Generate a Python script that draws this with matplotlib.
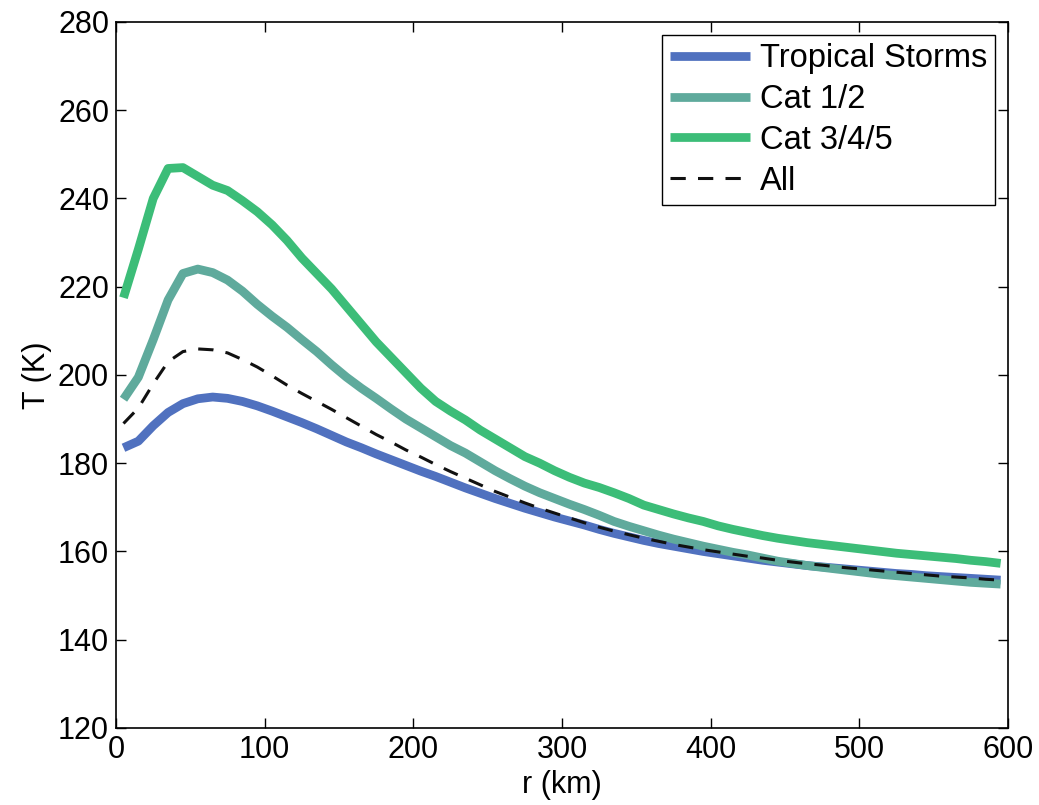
import numpy as np
import matplotlib
matplotlib.use("Agg")
import matplotlib.pyplot as plt

plt.rcParams['font.family'] = ['Liberation Sans', 'DejaVu Sans']

r_km = list(range(5, 600, 10))

ts = [183.5, 185.0, 188.5, 191.5, 193.5, 194.6, 195.0, 194.7, 194.0, 193.0,
      191.8, 190.5, 189.2, 187.8, 186.3, 184.8, 183.5, 182.1, 180.8, 179.5,
      178.2, 177.0, 175.7, 174.4, 173.2, 172.0, 170.9, 169.8, 168.8, 167.8,
      166.9, 166.0, 165.0, 164.1, 163.3, 162.5, 161.8, 161.2, 160.6, 160.0,
      159.5, 159.0, 158.5, 158.0, 157.6, 157.2, 156.8, 156.5, 156.2, 155.9,
      155.6, 155.3, 155.0, 154.8, 154.5, 154.3, 154.1, 153.9, 153.7, 153.5]

cat12 = [194.5, 199.5, 208.0, 217.0, 223.0, 224.0, 223.2, 221.5, 219.0, 216.0,
         213.3, 210.8, 208.0, 205.3, 202.3, 199.5, 197.0, 194.7, 192.3, 190.0,
         188.0, 186.0, 184.0, 182.3, 180.3, 178.3, 176.5, 174.8, 173.3, 172.0,
         170.7, 169.5, 168.2, 166.8, 165.7, 164.7, 163.7, 162.8, 162.0, 161.2,
         160.5, 159.8, 159.2, 158.5, 157.8, 157.3, 156.8, 156.4, 156.0, 155.6,
         155.2, 154.8, 154.5, 154.2, 153.9, 153.6, 153.3, 153.0, 152.8, 152.6]

cat345 = [217.5, 228.5, 240.0, 246.8, 247.0, 245.0, 243.0, 241.8, 239.5, 237.0,
          234.0, 230.5, 226.5, 223.0, 219.5, 215.5, 211.5, 207.5, 204.0, 200.5,
          197.0, 194.0, 191.8, 189.8, 187.5, 185.5, 183.5, 181.5, 180.0, 178.3,
          176.8, 175.5, 174.5, 173.3, 172.0, 170.5, 169.5, 168.5, 167.6, 166.8,
          165.8, 165.0, 164.3, 163.6, 163.0, 162.5, 162.0, 161.6, 161.2, 160.8,
          160.4, 160.0, 159.6, 159.3, 159.0, 158.7, 158.4, 158.0, 157.7, 157.3]

all_storms = [189.0, 192.5, 198.0, 203.0, 205.3, 205.9, 205.7, 205.0, 203.5, 201.8,
              199.8, 197.7, 195.8, 194.0, 192.2, 190.3, 188.4, 186.5, 184.8, 183.0,
              181.4, 179.7, 178.1, 176.6, 175.1, 173.6, 172.3, 171.0, 169.8, 168.7,
              167.6, 166.5, 165.5, 164.6, 163.8, 163.0, 162.3, 161.6, 161.0, 160.4,
              159.9, 159.4, 158.9, 158.5, 158.0, 157.6, 157.2, 156.9, 156.5, 156.2,
              155.9, 155.6, 155.3, 155.0, 154.7, 154.4, 154.2, 154.0, 153.7, 153.5]

labels = ["Tropical Storms", "Cat 1/2", "Cat 3/4/5", "All"]
xticks = [0, 100, 200, 300, 400, 500, 600]
yticks = [120, 140, 160, 180, 200, 220, 240, 260, 280]

fig = plt.figure(figsize=(10.39, 8.05), dpi=100)
ax = fig.add_axes([0.1117, 0.0957, 0.8585, 0.877])

lw = 6.3
ax.plot(r_km, ts, color="#5071BF", lw=lw, label=labels[0], solid_capstyle='butt')
ax.plot(r_km, cat12, color="#5FAA9C", lw=lw, label=labels[1], solid_capstyle='butt')
ax.plot(r_km, cat345, color="#3CBD78", lw=lw, label=labels[2], solid_capstyle='butt')
ax.plot(r_km, all_storms, color="#111111", lw=2.2, ls=(0, (5, 4)), label=labels[3])

ax.set_xlim(0, 600)
ax.set_ylim(120, 280)
ax.set_xticks(xticks)
ax.set_yticks(yticks)
ax.tick_params(direction='in', length=7, width=1, top=True, right=True,
               labelsize=22, pad=5)
for s in ax.spines.values():
    s.set_linewidth(1.2)
ax.set_xlabel("r (km)", fontsize=22, labelpad=4)
ax.set_ylabel("T (K)", fontsize=22, labelpad=4)

leg = ax.legend(loc='upper right', fontsize=23.5, handlelength=2.45, handletextpad=0.28,
                borderpad=0.25, labelspacing=0.3, fancybox=False, framealpha=1,
                edgecolor='black', borderaxespad=0.4)
leg.get_frame().set_linewidth(1.0)

fig.savefig("out.png", dpi=100)
